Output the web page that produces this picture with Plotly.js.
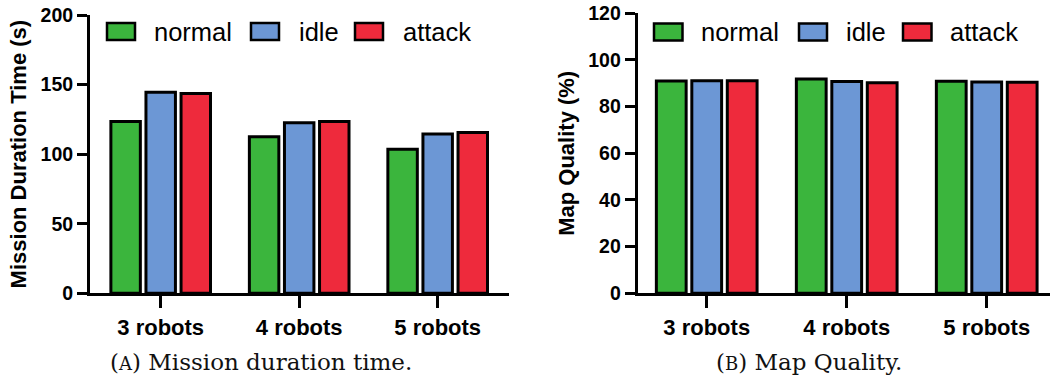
<!DOCTYPE html>
<html>
<head>
<meta charset="utf-8">
<script src="https://cdn.plot.ly/plotly-3.0.1.min.js"></script>
<style>html,body{margin:0;padding:0;background:#fff;}#chart{width:1050px;height:382px;}</style>
</head>
<body>
<div id="chart"></div>
<script>
// ---- data ----
var categories = ['3 robots', '4 robots', '5 robots'];
var seriesNames = ['normal', 'idle', 'attack'];
var durationNormal = [123.5, 112.5, 103.5];
var durationIdle   = [144.5, 122.5, 114.5];
var durationAttack = [143.5, 123.5, 115.5];
var qualityNormal  = [91.0, 91.8, 90.9];
var qualityIdle    = [91.1, 90.8, 90.6];
var qualityAttack  = [91.1, 90.2, 90.4];
var durationTicks = [0, 50, 100, 150, 200];
var qualityTicks = [0, 20, 40, 60, 80, 100, 120];

// ---- style ----
var colors = ['#3BB53D', '#6C97D5', '#EE2A3C'];
var W = 1050, H = 382;
function px(x) { return x / W; }
function py(y) { return 1 - y / H; }
var sans = '"Liberation Sans", Arial, sans-serif';
var serif = '"DejaVu Serif", serif';

var durationSeries = [durationNormal, durationIdle, durationAttack];
var qualitySeries = [qualityNormal, qualityIdle, qualityAttack];

var traces = [];
seriesNames.forEach(function (name, i) {
  traces.push({
    type: 'bar', name: name, x: categories, y: durationSeries[i],
    xaxis: 'x', yaxis: 'y', showlegend: false,
    marker: { color: colors[i], line: { color: '#000', width: 3 } },
    hoverinfo: 'x+y+name'
  });
});
seriesNames.forEach(function (name, i) {
  traces.push({
    type: 'bar', name: name, x: categories, y: qualitySeries[i],
    xaxis: 'x2', yaxis: 'y2', showlegend: false,
    marker: { color: colors[i], line: { color: '#000', width: 3 } },
    hoverinfo: 'x+y+name'
  });
});

function xAxis(domain, range, anchor) {
  return {
    domain: domain, range: range, anchor: anchor, type: 'category',
    showline: true, linewidth: 3, linecolor: '#000',
    ticks: 'outside', ticklen: 12, tickwidth: 3, tickcolor: '#000',
    showgrid: false, zeroline: false, fixedrange: true,
    tickfont: { family: sans, size: 22, color: '#000', weight: 'bold' }
  };
}
function yAxis(domain, range, tickvals, title, anchor) {
  return {
    domain: domain, range: range, anchor: anchor,
    tickmode: 'array', tickvals: tickvals, ticktext: tickvals.map(String),
    showline: true, linewidth: 3, linecolor: '#000',
    ticks: 'outside', ticklen: 10, tickwidth: 3, tickcolor: '#000',
    showgrid: false, zeroline: false, fixedrange: true,
    tickfont: { family: sans, size: 19.5, color: '#000', weight: 'bold' },
    title: { text: title, standoff: 8, font: { family: sans, size: 22, color: '#000', weight: 'bold' } }
  };
}

var shapes = [], annotations = [];
function legend(swatchX, textX, top, bottom) {
  seriesNames.forEach(function (name, i) {
    shapes.push({
      type: 'rect', xref: 'paper', yref: 'paper',
      x0: px(swatchX[i][0]), x1: px(swatchX[i][1]), y0: py(bottom), y1: py(top),
      fillcolor: colors[i], line: { color: '#000', width: 2.5 }
    });
    annotations.push({
      xref: 'paper', yref: 'paper', x: px(textX[i]), y: py((top + bottom) / 2),
      xanchor: 'left', yanchor: 'middle', showarrow: false, text: name,
      font: { family: sans, size: 25.5, color: '#000' }
    });
  });
}
legend([[107, 135], [251, 279], [355, 383]], [152, 296.5, 400.5], 23, 40);
legend([[654, 682.5], [799, 827], [903, 931.5]], [698.5, 844, 948], 23.5, 40.5);

annotations.push({
  xref: 'paper', yref: 'paper', x: px(260.5), y: py(362), xanchor: 'center', yanchor: 'middle',
  showarrow: false, text: '(<span style="font-size:18px">A</span>) Mission duration time.',
  font: { family: serif, size: 23, color: '#111' }
});
annotations.push({
  xref: 'paper', yref: 'paper', x: px(808.7), y: py(362), xanchor: 'center', yanchor: 'middle',
  showarrow: false, text: '(<span style="font-size:18px">B</span>) Map Quality.',
  font: { family: serif, size: 23, color: '#111' }
});

var layout = {
  width: W, height: H,
  margin: { l: 0, r: 0, t: 0, b: 0, pad: 0 },
  paper_bgcolor: '#fff', plot_bgcolor: 'rgba(0,0,0,0)',
  barmode: 'group', bargap: 0.24, bargroupgap: 0.16,
  showlegend: false,
  xaxis: xAxis([px(90), px(509)], [-0.5105, 2.515], 'y'),
  yaxis: yAxis([py(293.3), py(15)], [0, 200], durationTicks, 'Mission Duration Time (s)', 'x'),
  xaxis2: xAxis([px(637.7), 1], [-0.493, 2.452], 'y2'),
  yaxis2: yAxis([py(293.3), py(13.3)], [0, 120], qualityTicks, 'Map Quality (%)', 'x2'),
  shapes: shapes, annotations: annotations
};

Plotly.newPlot('chart', traces, layout, { displayModeBar: false, staticPlot: true });
</script>
</body>
</html>
